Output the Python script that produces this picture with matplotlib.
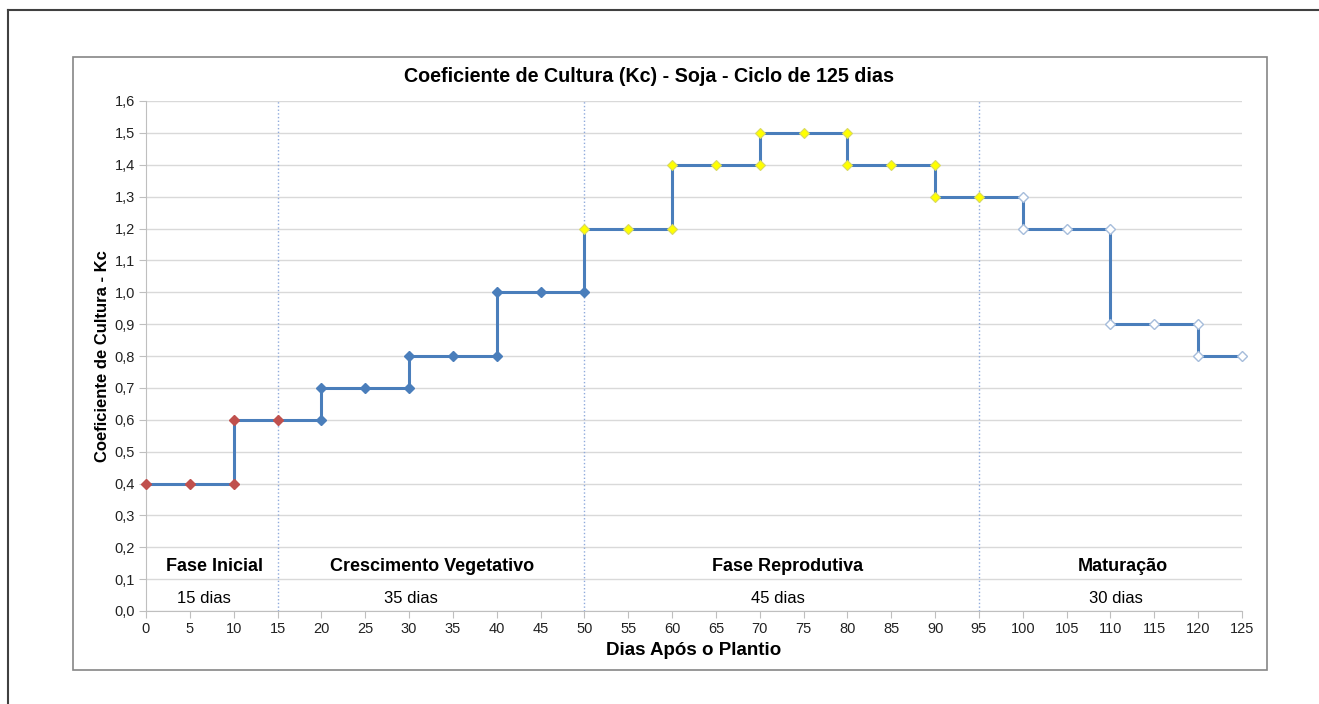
import matplotlib.pyplot as plt
from matplotlib.ticker import FuncFormatter, MultipleLocator
from matplotlib.patches import Rectangle
from matplotlib.lines import Line2D

plt.rcParams['font.family'] = ['Liberation Sans', 'DejaVu Sans']

# dados por fase (dias apos plantio, Kc)
inicial_x = [0, 5, 10, 10, 15]
inicial_y = [0.4, 0.4, 0.4, 0.6, 0.6]
veg_x = [20, 20, 25, 30, 30, 35, 40, 40, 45, 50]
veg_y = [0.6, 0.7, 0.7, 0.7, 0.8, 0.8, 0.8, 1.0, 1.0, 1.0]
rep_x = [50, 55, 60, 60, 65, 70, 70, 75, 80, 80, 85, 90, 90, 95]
rep_y = [1.2, 1.2, 1.2, 1.4, 1.4, 1.4, 1.5, 1.5, 1.5, 1.4, 1.4, 1.4, 1.3, 1.3]
mat_x = [100, 100, 105, 110, 110, 115, 120, 120, 125]
mat_y = [1.3, 1.2, 1.2, 1.2, 0.9, 0.9, 0.9, 0.8, 0.8]

divisoes = [15, 50, 95]
fases = ['Fase Inicial', 'Crescimento Vegetativo', 'Fase Reprodutiva', 'Maturação']
fase_dias = ['15 dias', '35 dias', '45 dias', '30 dias']
fase_pos_nome = [7.8, 32.6, 73.2, 111.4]
fase_pos_dias = [6.6, 30.2, 72.1, 110.6]

fig = plt.figure(figsize=(13.19, 7.04), dpi=100)

# molduras
fig.add_artist(Line2D([8 / 1319, 8 / 1319], [0, 1 - 10 / 704], color='#404040', lw=1.5))
fig.add_artist(Line2D([8 / 1319, 1], [1 - 10 / 704, 1 - 10 / 704], color='#404040', lw=1.5))
fig.add_artist(Rectangle((73 / 1319, 1 - 670 / 704), (1267 - 73) / 1319, (670 - 57) / 704,
                         transform=fig.transFigure, fill=False, edgecolor='#868686', lw=1.2))

ax = fig.add_axes([146 / 1319, 1 - 611 / 704, (1242 - 146) / 1319, (611 - 101) / 704])

ax.set_xlim(0, 125)
ax.set_ylim(0, 1.6)
ax.xaxis.set_major_locator(MultipleLocator(5))
ax.yaxis.set_major_locator(MultipleLocator(0.1))
ax.yaxis.set_major_formatter(FuncFormatter(lambda v, p: f"{v:.1f}".replace('.', ',')))
ax.grid(axis='y', color='#D9D9D9', lw=1)
ax.set_axisbelow(True)
for s in ['top', 'right']:
    ax.spines[s].set_visible(False)
for s in ['left', 'bottom']:
    ax.spines[s].set_color('#BFBFBF')
ax.tick_params(length=5, color='#BFBFBF', labelsize=10.5, labelcolor='#222222', pad=3)

for d in divisoes:
    ax.axvline(d, color='#8FAADC', lw=1, ls=':', zorder=1)

todos_x = inicial_x + veg_x + rep_x + mat_x
todos_y = inicial_y + veg_y + rep_y + mat_y
ax.plot(todos_x, todos_y, color='#4A7EBB', lw=2.2, zorder=2, clip_on=False)

ax.plot(inicial_x, inicial_y, ls='none', marker='D', ms=5.5, mfc='#C0504D', mec='#C0504D', zorder=3, clip_on=False)
ax.plot(veg_x, veg_y, ls='none', marker='D', ms=5.5, mfc='#4A7EBB', mec='#4A7EBB', zorder=3, clip_on=False)
ax.plot(rep_x, rep_y, ls='none', marker='D', ms=5.5, mfc='#FFFF00', mec='#D8D860', mew=0.8, zorder=3, clip_on=False)
ax.plot(mat_x, mat_y, ls='none', marker='D', ms=5.5, mfc='white', mec='#A6BDDB', mew=1, zorder=3, clip_on=False)

for nome, xn in zip(fases, fase_pos_nome):
    ax.text(xn, 0.14, nome, ha='center', va='center', fontsize=13, fontweight='bold')
for dias, xd in zip(fase_dias, fase_pos_dias):
    ax.text(xd, 0.04, dias, ha='center', va='center', fontsize=12)

ax.set_xlabel('Dias Após o Plantio', fontsize=13.5, fontweight='bold')
ax.xaxis.set_label_coords(0.5, -0.06)
ax.set_ylabel('Coeficiente de Cultura - Kc', fontsize=12, fontweight='bold')
ax.yaxis.set_label_coords(-0.033, 0.5)

fig.text(649 / 1319, 1 - 76 / 704, 'Coeficiente de Cultura (Kc) - Soja - Ciclo de 125 dias',
         ha='center', va='center', fontsize=14.2, fontweight='bold')

fig.savefig('out.png', dpi=100)
